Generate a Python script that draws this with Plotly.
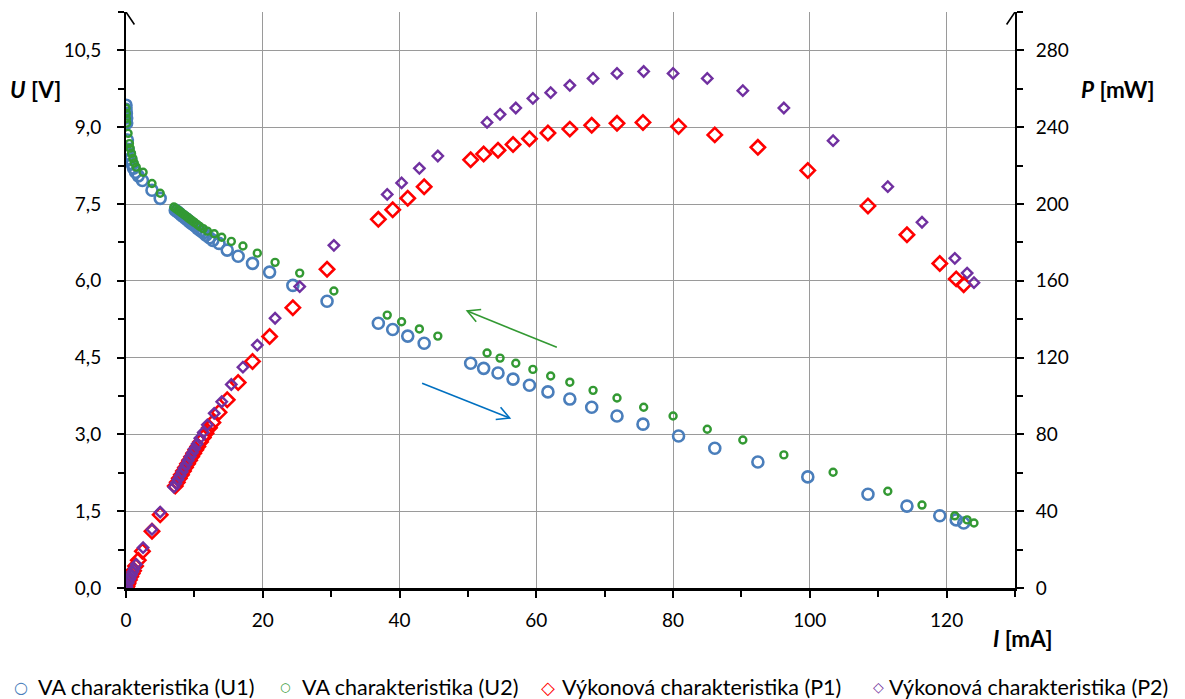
import math
import plotly.graph_objects as go

# ---------------- data ----------------
I1 = [0.0, 0.0, 0.05, 0.1, 0.1, 0.2, 0.3, 0.5, 0.7, 0.9, 1.1, 1.4, 1.8, 2.4, 3.8, 5.0,
      7.2, 7.5, 7.8, 8.1, 8.4, 8.7, 9.0, 9.3, 9.6, 9.9, 10.2, 10.5, 10.9, 11.3, 11.7, 12.2, 12.7,
      13.6, 14.8, 16.4, 18.5, 21.0, 24.4, 29.4, 36.9, 39.0, 41.2, 43.6, 50.4, 52.3, 54.4, 56.6,
      59.0, 61.7, 64.9, 68.1, 71.8, 75.6, 80.8, 86.1, 92.4, 99.7, 108.5, 114.2, 119.0, 121.4, 122.5]
U1 = [9.43, 9.35, 9.27, 9.18, 9.08, 8.75, 8.57, 8.47, 8.37, 8.28, 8.2, 8.12, 8.05, 7.96, 7.77, 7.61,
      7.38, 7.35, 7.32, 7.28, 7.25, 7.22, 7.19, 7.15, 7.12, 7.09, 7.06, 7.02, 6.98, 6.94, 6.89, 6.84, 6.79,
      6.73, 6.6, 6.48, 6.34, 6.17, 5.91, 5.6, 5.17, 5.05, 4.92, 4.78, 4.39, 4.29, 4.2, 4.08,
      3.96, 3.83, 3.69, 3.53, 3.36, 3.2, 2.97, 2.73, 2.46, 2.17, 1.83, 1.6, 1.41, 1.33, 1.27]
P1 = [0.0, 0.0, 0.5, 0.9, 0.9, 1.8, 2.6, 4.2, 5.9, 7.5, 9.0, 11.4, 14.5, 19.1, 29.5, 38.1,
      53.1, 55.1, 57.1, 59.0, 60.9, 62.8, 64.7, 66.5, 68.4, 70.2, 72.0, 73.7, 76.1, 78.4, 80.6, 83.4, 86.2,
      91.5, 98, 107, 118, 131, 146, 166, 192, 197, 203, 209, 223, 226, 228, 231,
      234, 237, 239, 241, 242, 242.5, 240.4, 236, 229.5, 217.5, 199, 184, 169, 161, 158]

I2 = [0.0, 0.05, 0.05, 0.1, 0.3, 0.5, 0.6, 0.8, 1.0, 1.2, 1.5, 2.5, 3.8, 5.0,
      7.0, 7.3, 7.6, 7.9, 8.2, 8.5, 8.8, 9.1, 9.4, 9.7, 10.0, 10.4, 10.8, 11.3, 11.9,
      12.9, 14.0, 15.4, 17.1, 19.2, 21.8, 25.4, 30.4, 38.2, 40.3, 42.9, 45.6, 52.8, 54.7, 57.0,
      59.5, 62.1, 64.9, 68.3, 71.8, 75.7, 80.0, 85.0, 90.2, 96.2, 103.4, 111.4, 116.4, 121.2, 123.0, 124.0]
U2 = [9.37, 9.27, 9.17, 9.08, 8.88, 8.68, 8.59, 8.49, 8.39, 8.3, 8.22, 8.12, 7.9, 7.71,
      7.44, 7.41, 7.38, 7.35, 7.32, 7.29, 7.26, 7.23, 7.2, 7.17, 7.14, 7.1, 7.06, 7.02, 6.97,
      6.92, 6.85, 6.77, 6.68, 6.54, 6.36, 6.15, 5.8, 5.33, 5.2, 5.06, 4.92, 4.59, 4.49, 4.39,
      4.27, 4.14, 4.02, 3.86, 3.71, 3.53, 3.36, 3.1, 2.89, 2.6, 2.26, 1.89, 1.62, 1.41, 1.33, 1.27]
P2 = [0.0, 0.5, 0.5, 0.9, 2.7, 4.3, 5.2, 6.8, 8.4, 10.0, 12.3, 21.0, 30.5, 39.5,
      52.5, 54.5, 56.5, 58.5, 60.5, 62.5, 64.5, 66.5, 68.5, 70.5, 72.5, 75, 78, 81, 85,
      91, 97, 106, 115, 126.5, 140.5, 157, 178.5, 205, 211, 218.6, 225, 242.5, 246.7, 250,
      255, 258, 261.8, 265.4, 268, 269, 268, 265.4, 259, 250, 233, 209, 190.5, 171.7, 164, 159]

NAMES = ["VA charakteristika (U1)", "VA charakteristika (U2)",
         "Výkonová charakteristika (P1)", "Výkonová charakteristika (P2)"]

X_RANGE = [0, 130]
U_RANGE = [0, 11.25]
P_RANGE = [0, 300]

# direction arrows (tail -> head) in data units (I, U)
ARROW_GREEN = ((63.0, 4.70), (49.9, 5.41))
ARROW_BLUE = ((43.3, 4.00), (56.1, 3.32))

# ---------------- styling ----------------
FONT = "Lato"
C_BLUE = "#4A7EBB"
C_GREEN = "#339933"
C_RED = "#FF0000"
C_PURPLE = "#7030A0"
COLORS = [C_BLUE, C_GREEN, C_RED, C_PURPLE]

OFF = 8  # page body margin of the html page
W, H = 1185 - OFF, 699 - OFF
PAGE_L, PAGE_R, PAGE_T, PAGE_B = 126, 1015, 12, 588   # plot area in page pixels
ML = PAGE_L - OFF
MT = PAGE_T - OFF
MR = W - (PAGE_R - OFF)
MB = H - (PAGE_B - OFF)
PW, PH = PAGE_R - PAGE_L, PAGE_B - PAGE_T


def pxp(x):
    return (x - PAGE_L) / PW


def pyp(y):
    return (PAGE_B - y) / PH


fig = go.Figure()
fig.add_trace(go.Scatter(x=I1, y=U1, mode="markers", name=NAMES[0],
                         marker=dict(symbol="circle-open", size=11, color=C_BLUE, line=dict(width=2.6, color=C_BLUE))))
fig.add_trace(go.Scatter(x=I2, y=U2, mode="markers", name=NAMES[1],
                         marker=dict(symbol="circle-open", size=7, color=C_GREEN, line=dict(width=2.4, color=C_GREEN))))
fig.add_trace(go.Scatter(x=I1, y=P1, mode="markers", name=NAMES[2], yaxis="y2",
                         marker=dict(symbol="diamond-open", size=11, color=C_RED, line=dict(width=2.6, color=C_RED))))
fig.add_trace(go.Scatter(x=I2, y=P2, mode="markers", name=NAMES[3], yaxis="y2",
                         marker=dict(symbol="diamond-open", size=8, color=C_PURPLE, line=dict(width=2.4, color=C_PURPLE))))

tickfont = dict(family=FONT, size=19, color="black")
gridc = "#9A9A9A"

fig.update_layout(
    width=W, height=H,
    margin=dict(l=ML, r=MR, t=MT, b=MB, autoexpand=False),
    paper_bgcolor="white", plot_bgcolor="white",
    separators=", ",
    font=dict(family=FONT, size=19, color="black"),
    showlegend=False,
    xaxis=dict(range=X_RANGE, dtick=20, tick0=0, showgrid=True, gridcolor=gridc, gridwidth=1,
               zeroline=False, showline=True, linecolor="black", linewidth=2.5,
               ticks="outside", ticklen=7, tickwidth=2, tickcolor="black", tickfont=tickfont,
               ticklabelstandoff=6,
               minor=dict(dtick=10, ticks="outside", ticklen=6, tickwidth=1.5, tickcolor="black", showgrid=False)),
    yaxis=dict(range=U_RANGE, dtick=1.5, tick0=0, tickformat=".1f", showgrid=True, gridcolor=gridc, gridwidth=1,
               zeroline=False, showline=True, linecolor="black", linewidth=2,
               ticks="outside", ticklen=7, tickwidth=2, tickcolor="black", tickfont=tickfont,
               ticklabelstandoff=12,
               minor=dict(dtick=0.75, ticks="outside", ticklen=6, tickwidth=1.5, tickcolor="black", showgrid=False)),
    yaxis2=dict(range=P_RANGE, dtick=40, tick0=0, overlaying="y", side="right", showgrid=False,
                zeroline=False, showline=True, linecolor="black", linewidth=2,
                ticks="outside", ticklen=7, tickwidth=2, tickcolor="black", tickfont=tickfont,
                ticklabelstandoff=8,
                minor=dict(dtick=20, ticks="outside", ticklen=6, tickwidth=1.5, tickcolor="black", showgrid=False)),
)

# axis titles
title_font = dict(family=FONT, size=22.5, color="black")
for txt, tx, ty in (("<b><i>U</i> [V]</b>", 35, 90), ("<b><i>P</i> [mW]</b>", 1117, 90),
                    ("<b><i>I</i> [mA]</b>", 1022, 638)):
    fig.add_annotation(text=txt, xref="paper", yref="paper", x=pxp(tx), y=pyp(ty),
                       xanchor="center", yanchor="middle", showarrow=False, font=title_font)

# legend (drawn as text so that it keeps the reference's single-row layout)
LEG_SYM = ["○", "○", "◇", "◇"]
LEG_SYM_SIZE = [16, 12, 18, 14]
LEG_SYM_X = [21, 285, 548, 878]
LEG_TXT_X = [36, 300, 560, 887]
LEG_Y = 687
for i in range(4):
    fig.add_annotation(text=LEG_SYM[i], xref="paper", yref="paper", x=pxp(LEG_SYM_X[i]), y=pyp(LEG_Y),
                       xanchor="center", yanchor="middle", showarrow=False,
                       font=dict(family="DejaVu Sans", size=LEG_SYM_SIZE[i], color=COLORS[i]))
    fig.add_annotation(text=NAMES[i], xref="paper", yref="paper", x=pxp(LEG_TXT_X[i]), y=pyp(LEG_Y),
                       xanchor="left", yanchor="middle", showarrow=False,
                       font=dict(family=FONT, size=21.5, color="black"))

# pixel scales for chevrons
sx = PW / (X_RANGE[1] - X_RANGE[0])
sy = PH / (U_RANGE[1] - U_RANGE[0])


def chevron(dx, dy, length=14, ang=28):
    # dx, dy direction in pixel space with y up; returns open arrow-head path at the tip
    n = math.hypot(dx, dy)
    ux, uy = dx / n, dy / n
    pts = []
    for s in (1, -1):
        a = math.radians(ang * s)
        bx = -(ux * math.cos(a) - uy * math.sin(a)) * length
        by = -(ux * math.sin(a) + uy * math.cos(a)) * length
        pts.append((bx, by))
    return "M{:.2f},{:.2f} L0,0 L{:.2f},{:.2f}".format(pts[0][0], pts[0][1], pts[1][0], pts[1][1])


for (tail, head), col in ((ARROW_GREEN, C_GREEN), (ARROW_BLUE, "#0070C0")):
    fig.add_shape(type="line", xref="x", yref="y", x0=tail[0], y0=tail[1], x1=head[0], y1=head[1],
                  line=dict(color=col, width=1.6))
    dx = (head[0] - tail[0]) * sx
    dy = (head[1] - tail[1]) * sy
    fig.add_shape(type="path", xref="x", yref="y", xsizemode="pixel", ysizemode="pixel",
                  xanchor=head[0], yanchor=head[1], path=chevron(dx, dy),
                  line=dict(color=col, width=1.6))

# open arrow heads on top of the two vertical axes
for xa in (X_RANGE[0], X_RANGE[1]):
    fig.add_shape(type="path", xref="x", yref="y", xsizemode="pixel", ysizemode="pixel",
                  xanchor=xa, yanchor=U_RANGE[1], path=chevron(0, 1, length=15, ang=34),
                  line=dict(color="black", width=1.6))

fig.write_html("out.html")
